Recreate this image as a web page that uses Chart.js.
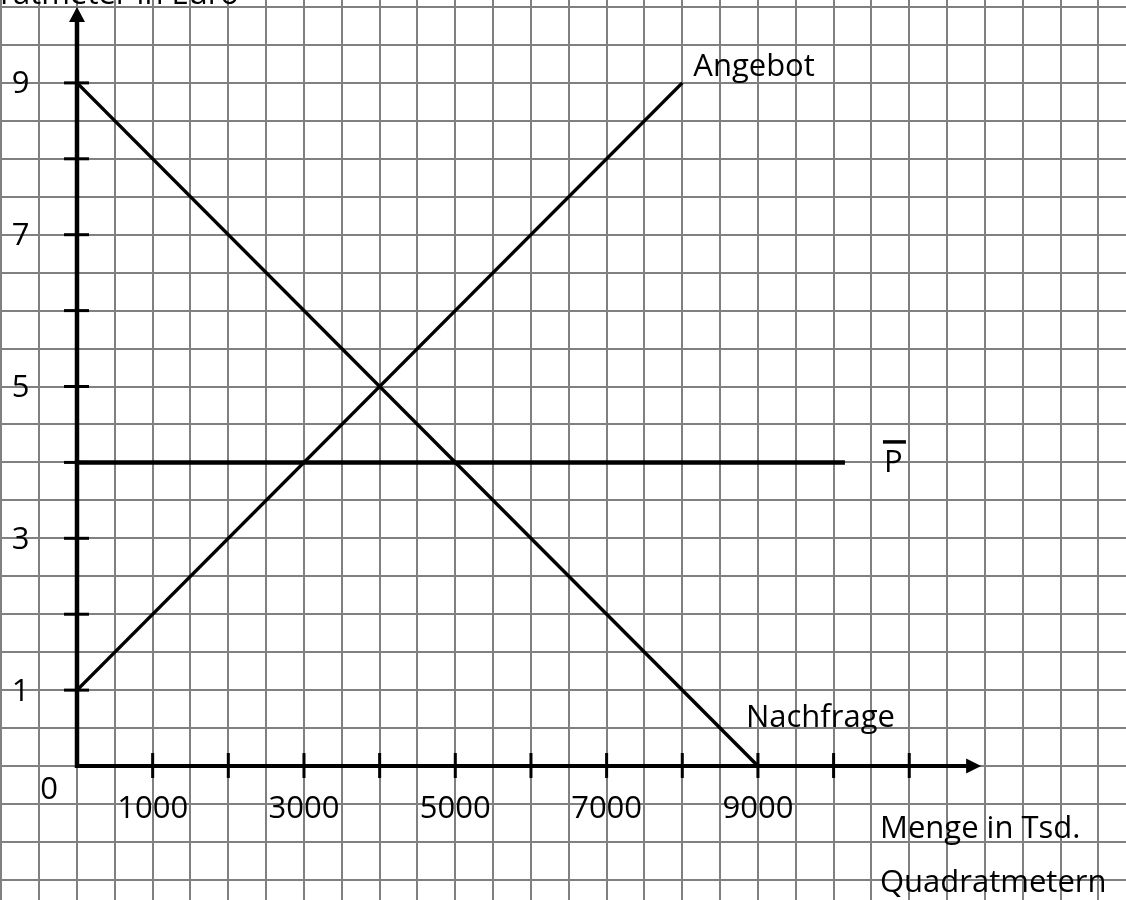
<!DOCTYPE html>
<html>
<head>
<meta charset="utf-8">
<script src="https://cdn.jsdelivr.net/npm/chart.js@4/dist/chart.umd.min.js"></script>
<style>
  html, body { margin: 0; padding: 0; background: #ffffff; }
  #wrap { width: 1126px; height: 900px; }
</style>
</head>
<body>
<div id="wrap"><canvas id="c" width="1126" height="900"></canvas></div>
<script>
// ---- data ----
const demandX = [0, 9000];
const demandY = [9, 0];
const supplyX = [0, 8000];
const supplyY = [1, 9];
const ceilingX = [0, 10150];
const ceilingY = [4, 4];

const xTickMarks = [1000, 2000, 3000, 4000, 5000, 6000, 7000, 8000, 9000, 10000, 11000];
const xTickLabelValues = [1000, 3000, 5000, 7000, 9000];
const xTickLabels = ['1000', '3000', '5000', '7000', '9000'];
const yTickMarks = [1, 2, 3, 4, 5, 6, 7, 8, 9];
const yTickLabelValues = [1, 3, 5, 7, 9];
const yTickLabels = ['1', '3', '5', '7', '9'];
const originLabel = '0';

const xAxisEnd = 11950;
const yAxisEnd = 10;
const xGridStep = 500;
const yGridStep = 0.5;

const yAxisTitle = 'Preis pro Quadratmeter in Euro';
const xAxisTitle1 = 'Menge in Tsd.';
const xAxisTitle2 = 'Quadratmetern';
const supplyLabel = 'Angebot';
const demandLabel = 'Nachfrage';
const ceilingLabel = 'P';

const toPts = (xs, ys) => xs.map((x, i) => ({ x: x, y: ys[i] }));

const FONT = '31px "Open Sans"';

function gridTicks(step) {
  return function (scale) {
    const t = [];
    const start = Math.ceil(scale.min / step);
    const end = Math.floor(scale.max / step);
    for (let k = start; k <= end; k++) t.push({ value: k * step });
    scale.ticks = t;
  };
}

const overlay = {
  id: 'overlay',
  afterDatasetsDraw(chart) {
    const ctx = chart.ctx;
    const xs = chart.scales.x, ys = chart.scales.y;
    const px = v => xs.getPixelForValue(v);
    const py = v => ys.getPixelForValue(v);
    const x0 = px(0), y0 = py(0);
    ctx.save();
    ctx.strokeStyle = '#000';
    ctx.fillStyle = '#000';
    ctx.lineCap = 'butt';

    // axes
    ctx.lineWidth = 4.5;
    ctx.beginPath();
    ctx.moveTo(x0, y0 + 2);
    ctx.lineTo(x0, py(yAxisEnd) + 12);
    ctx.stroke();
    ctx.lineWidth = 4;
    ctx.beginPath();
    ctx.moveTo(x0 - 2, y0);
    ctx.lineTo(px(xAxisEnd) - 12, y0);
    ctx.stroke();

    // arrow heads
    const ty = py(yAxisEnd);
    ctx.beginPath();
    ctx.moveTo(x0, ty);
    ctx.lineTo(x0 - 8, ty + 15);
    ctx.lineTo(x0 + 8, ty + 15);
    ctx.closePath();
    ctx.fill();
    const tx = px(xAxisEnd);
    ctx.beginPath();
    ctx.moveTo(tx, y0);
    ctx.lineTo(tx - 15, y0 - 7.5);
    ctx.lineTo(tx - 15, y0 + 7.5);
    ctx.closePath();
    ctx.fill();

    // tick marks
    ctx.lineWidth = 3;
    xTickMarks.forEach(v => {
      const x = px(v);
      ctx.beginPath();
      ctx.moveTo(x, y0 - 13);
      ctx.lineTo(x, y0 + 12);
      ctx.stroke();
    });
    yTickMarks.forEach(v => {
      const y = py(v);
      ctx.beginPath();
      ctx.moveTo(x0 - 13, y);
      ctx.lineTo(x0 + 12, y);
      ctx.stroke();
    });

    // labels
    ctx.font = FONT;
    ctx.textBaseline = 'alphabetic';
    ctx.textAlign = 'center';
    xTickLabelValues.forEach((v, i) => {
      ctx.fillText(xTickLabels[i], px(v), y0 + 52);
    });
    yTickLabelValues.forEach((v, i) => {
      ctx.fillText(yTickLabels[i], 20.5, py(v) + 10.5);
    });
    ctx.fillText(originLabel, x0 - 28, y0 + 33);

    ctx.textAlign = 'left';
    ctx.fillText(supplyLabel, px(supplyX[1]) + 11, py(supplyY[1]) - 7);
    ctx.fillText(demandLabel, px(demandX[1]) - 12, y0 - 39);
    ctx.fillText(xAxisTitle1, 880, y0 + 72);
    ctx.fillText(xAxisTitle2, 880, y0 + 126);

    // P with overline bar
    const pX = px(ceilingX[1]) + 39, pY = py(ceilingY[1]) + 10;
    ctx.fillText(ceilingLabel, pX, pY);
    ctx.lineWidth = 3.5;
    ctx.beginPath();
    ctx.moveTo(pX - 1, pY - 30.5);
    ctx.lineTo(pX + 22, pY - 30.5);
    ctx.stroke();

    ctx.textAlign = 'right';
    ctx.fillText(yAxisTitle, 239, 4);
    ctx.restore();
  }
};

const lineStyle = (w) => ({
  borderColor: '#000',
  borderWidth: w,
  pointRadius: 0,
  showLine: true,
  fill: false,
  tension: 0
});

function build() {
  new Chart(document.getElementById('c'), {
    type: 'scatter',
    data: {
      datasets: [
        Object.assign({ label: demandLabel, data: toPts(demandX, demandY) }, lineStyle(3.5)),
        Object.assign({ label: supplyLabel, data: toPts(supplyX, supplyY) }, lineStyle(3.5)),
        Object.assign({ label: 'P', data: toPts(ceilingX, ceilingY) }, lineStyle(4.5))
      ]
    },
    options: {
      responsive: false,
      animation: false,
      devicePixelRatio: 1,
      layout: { padding: 0 },
      plugins: { legend: { display: false }, tooltip: { enabled: false } },
      scales: {
        x: {
          type: 'linear',
          min: -1017.7,
          max: 13864.7,
          afterBuildTicks: gridTicks(xGridStep),
          ticks: { display: false },
          grid: { color: '#808080', lineWidth: 2, drawTicks: false },
          border: { display: false }
        },
        y: {
          type: 'linear',
          min: -1.765,
          max: 10.092,
          afterBuildTicks: gridTicks(yGridStep),
          ticks: { display: false },
          grid: { color: '#808080', lineWidth: 2, drawTicks: false },
          border: { display: false }
        }
      }
    },
    plugins: [overlay]
  });
}

if (document.fonts && document.fonts.load) {
  document.fonts.load(FONT).then(build, build);
} else {
  build();
}
</script>
</body>
</html>
